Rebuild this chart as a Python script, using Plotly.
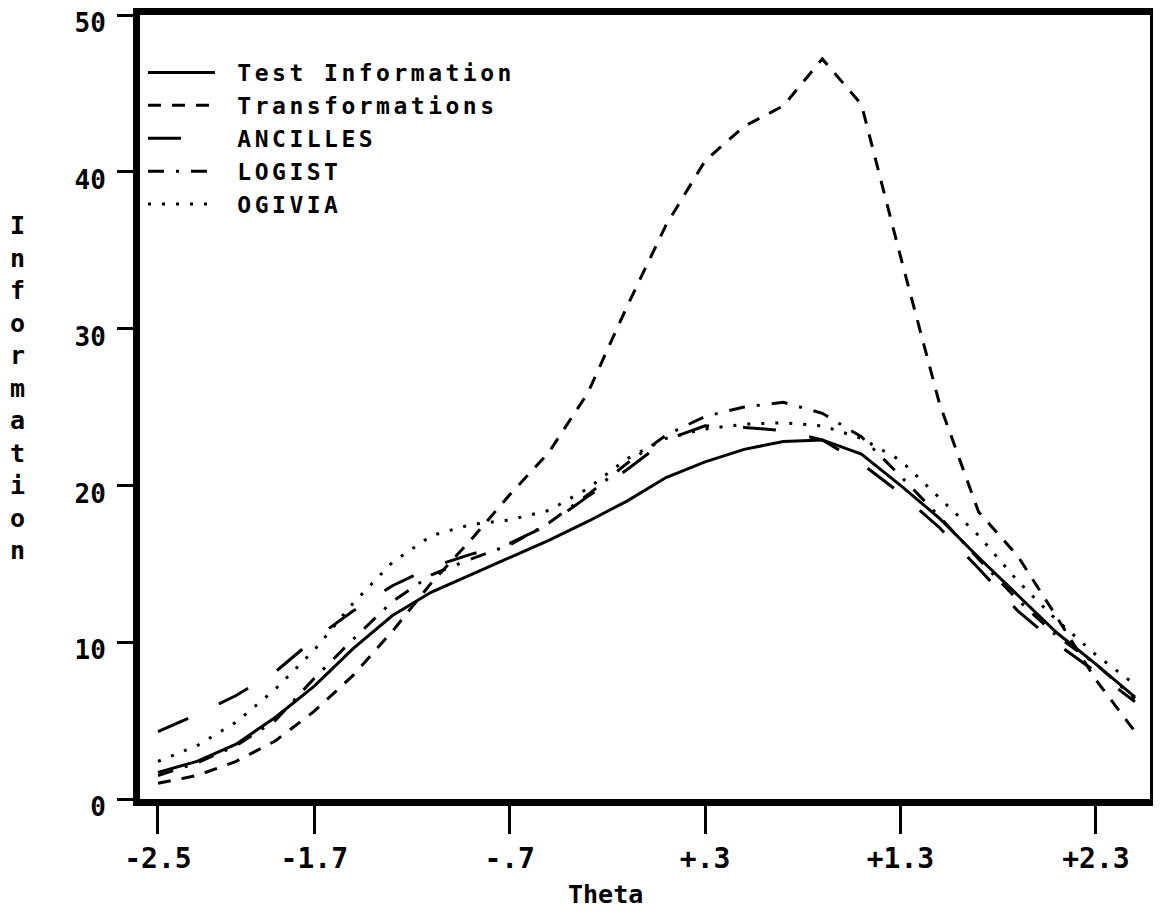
import plotly.graph_objects as go

theta = [-2.5, -2.3, -2.1, -1.9, -1.7, -1.5, -1.3, -1.1, -0.9, -0.7, -0.5, -0.3, -0.1,
         0.1, 0.3, 0.5, 0.7, 0.9, 1.1, 1.3, 1.5, 1.7, 1.9, 2.1, 2.3, 2.5]

test_information = [1.7, 2.4, 3.5, 5.2, 7.2, 9.6, 11.7, 13.2, 14.3, 15.4, 16.5, 17.7, 19.0,
                    20.5, 21.5, 22.3, 22.8, 22.9, 22.0, 20.0, 17.9, 15.4, 13.0, 10.6, 8.6, 6.5]
transformations = [1.0, 1.5, 2.4, 3.7, 5.6, 7.9, 10.7, 13.8, 16.5, 19.4, 22.1, 25.9, 31.4,
                   36.6, 40.7, 42.9, 44.2, 47.2, 44.3, 34.6, 25.2, 18.3, 15.5, 11.6, 7.6, 4.3]
ancilles = [4.3, 5.4, 6.6, 8.1, 10.2, 12.0, 13.6, 14.8, 15.6, 16.3, 17.5, 19.3, 21.0,
            22.9, 23.8, 23.7, 23.5, 22.9, 21.4, 19.5, 17.3, 14.7, 12.0, 9.9, 8.1, 6.2]
logist = [1.5, 2.3, 3.4, 5.0, 7.7, 10.2, 12.6, 14.3, 15.3, 16.2, 17.6, 19.4, 21.4,
          23.2, 24.4, 25.0, 25.3, 24.6, 23.1, 20.6, 18.0, 15.3, 12.7, 10.4, 8.6, 6.4]
ogivia = [2.4, 3.4, 4.9, 7.0, 9.5, 12.5, 15.1, 16.8, 17.5, 17.8, 18.4, 19.8, 21.7,
          23.0, 23.6, 23.9, 24.0, 23.8, 23.0, 21.6, 19.2, 16.8, 13.9, 11.4, 9.2, 7.3]

series_names = ["Test Information", "Transformations", "ANCILLES", "LOGIST", "OGIVIA"]
series_values = [test_information, transformations, ancilles, logist, ogivia]
series_dash = ["solid", "13px,11px", "33px,34px", "16px,12px,3px,12px", "3px,11px"]

x_tickvals = [-2.5, -1.7, -0.7, 0.3, 1.3, 2.3]
x_ticktext = ["-2.5", "-1.7", "-.7", "+.3", "+1.3", "+2.3"]
y_tickvals = [0, 10, 20, 30, 40, 50]
y_ticktext = ["0", "10", "20", "30", "40", "50"]

FONT = "DejaVu Sans Mono"

# page offset of the figure div (browser body margin) is 8px
PLOT_L, PLOT_T, PLOT_W, PLOT_H = 140, 15, 1010, 784


def px_x(px):
    return (px - PLOT_L) / PLOT_W


def px_y(py):
    return 1 - (py - PLOT_T) / PLOT_H


fig = go.Figure()
for name, vals, dash in zip(series_names, series_values, series_dash):
    fig.add_trace(go.Scatter(
        x=theta, y=vals, mode="lines",
        name='<span style="letter-spacing:3.5px">\u00a0' + name + '</span>',
        line=dict(color="black", width=3, dash=dash),
    ))

fig.update_layout(
    width=1145, height=906,
    paper_bgcolor="white", plot_bgcolor="white",
    margin=dict(l=132, r=3, t=7, b=115, autoexpand=False),
    showlegend=True,
    legend=dict(
        x=px_x(143), y=px_y(51), xanchor="left", yanchor="top",
        bgcolor="rgba(0,0,0,0)", borderwidth=0,
        font=dict(family=FONT, size=23, color="black", weight=700),
        itemwidth=67, tracegroupgap=0,
    ),
    font=dict(family=FONT, color="black"),
)

fig.update_xaxes(
    range=[-2.592, 2.577], automargin=False, ticklabeloverflow="allow",
    tickmode="array", tickvals=x_tickvals, ticktext=x_ticktext,
    ticks="outside", ticklen=28, tickwidth=3, tickcolor="black",
    tickfont=dict(family=FONT, size=28, color="black", weight=700),
    showline=True, linewidth=7, linecolor="black", mirror=True,
    showgrid=False, zeroline=False,
)
fig.update_yaxes(
    range=[0, 50], automargin=False, ticklabeloverflow="allow",
    tickmode="array", tickvals=y_tickvals, ticktext=y_ticktext,
    ticks="outside", ticklen=16, tickwidth=3, tickcolor="black",
    tickfont=dict(family=FONT, size=26, color="black", weight=700),
    ticklabelstandoff=6, ticklabelshift=8,
    showline=True, linewidth=7, linecolor="black", mirror=True,
    showgrid=False, zeroline=False,
)

fig.add_annotation(
    text="Theta", xref="paper", yref="paper",
    x=px_x(605), y=px_y(895), xanchor="center", yanchor="middle",
    showarrow=False, font=dict(family=FONT, size=25, color="black", weight=700),
)
fig.add_annotation(
    text="<br>".join(list("Information")),
    xref="paper", yref="paper",
    x=px_x(17), y=px_y(388), xanchor="center", yanchor="middle",
    showarrow=False, align="center",
    font=dict(family=FONT, size=25, color="black", weight=700),
)

fig.write_html("out.html")
